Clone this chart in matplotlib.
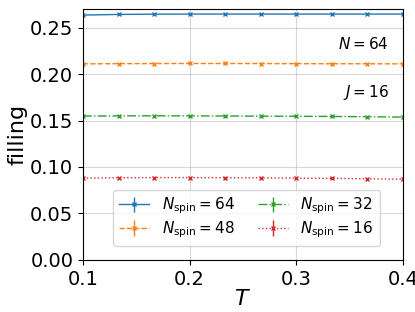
import numpy as np
import matplotlib
matplotlib.use("Agg")
import matplotlib.pyplot as plt

T = [0.1, 0.1333, 0.1667, 0.2, 0.2333, 0.2667, 0.3, 0.3333, 0.3667, 0.4]

fill_64 = [0.2635, 0.2642, 0.2645, 0.2646, 0.2646, 0.2646, 0.2646, 0.2646, 0.2646, 0.2646]
fill_48 = [0.2110, 0.2112, 0.2113, 0.2114, 0.2114, 0.2113, 0.2112, 0.2111, 0.2111, 0.2110]
fill_32 = [0.1548, 0.1550, 0.1551, 0.1550, 0.1549, 0.1547, 0.1546, 0.1544, 0.1541, 0.1537]
fill_16 = [0.0880, 0.0884, 0.0886, 0.0886, 0.0885, 0.0883, 0.0880, 0.0877, 0.0873, 0.0868]

err = [0.0004] * 10

series = [
    (fill_64, r"$N_{\rm spin}=64$", "-", "tab:blue"),
    (fill_48, r"$N_{\rm spin}=48$", "--", "tab:orange"),
    (fill_32, r"$N_{\rm spin}=32$", "-.", "tab:green"),
    (fill_16, r"$N_{\rm spin}=16$", ":", "tab:red"),
]

fig = plt.figure(figsize=(4.15, 3.12), dpi=100)
ax = fig.add_axes([0.2, 0.167, 0.771, 0.804])

for vals, label, ls, color in series:
    ax.errorbar(
        T, vals, yerr=err,
        linestyle=ls, color=color,
        marker="x", markersize=3,
        linewidth=1, label=label
    )

ax.set_xlim(0.1, 0.4)
ax.set_ylim(0, 0.27)
ax.set_xticks([0.1, 0.2, 0.3, 0.4])
ax.set_yticks([0.0, 0.05, 0.10, 0.15, 0.20, 0.25])
ax.tick_params(labelsize=14)
ax.grid(True, alpha=0.5)

ax.set_xlabel(r"$T$", fontsize=16, labelpad=0)
ax.set_ylabel("filling", fontsize=16, labelpad=2)

ax.text(0.956, 0.86, r"$N=64$", transform=ax.transAxes,
        ha="right", va="center", fontsize=11)
ax.text(0.956, 0.667, r"$J=16$", transform=ax.transAxes,
        ha="right", va="center", fontsize=11)

ax.legend(ncol=2, loc="lower center", bbox_to_anchor=(0.51, 0.055),
          borderaxespad=0, fontsize=11, labelspacing=0.2,
          columnspacing=1.5)

fig.savefig("out.png", dpi=100)
